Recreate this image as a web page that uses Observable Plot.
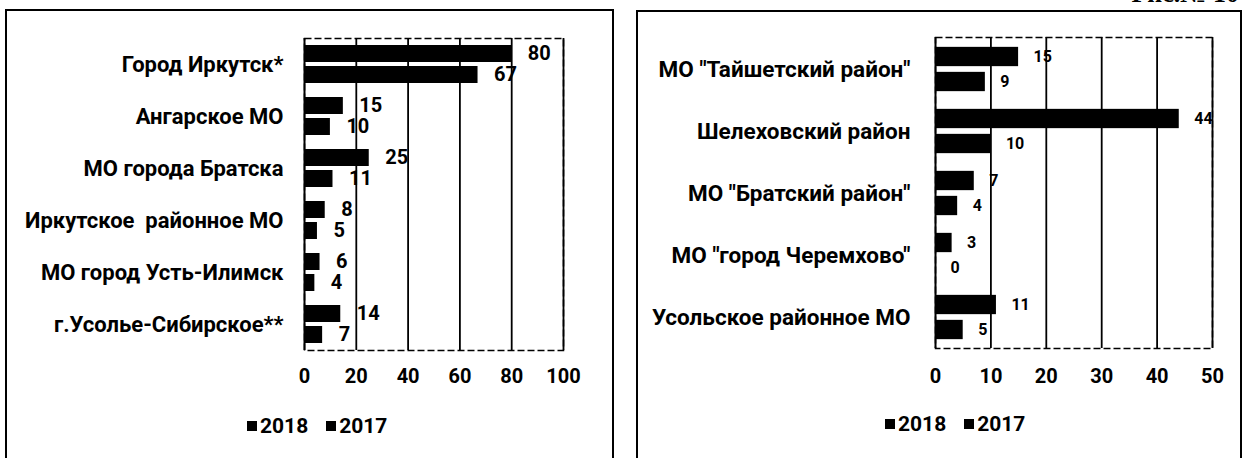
<!DOCTYPE html>
<html><head><meta charset="utf-8">
<script src="https://cdn.jsdelivr.net/npm/d3@7"></script>
<script src="https://cdn.jsdelivr.net/npm/@observablehq/plot@0.6"></script>
<style>
body{margin:0;width:1243px;height:458px;overflow:hidden;background:#fff;position:relative;font-family:Roboto,"Liberation Sans",sans-serif;color:#000}
.panel{position:absolute;border:2px solid #000;border-bottom:none;box-sizing:border-box}
.panel svg{position:absolute;left:0;top:0}
.legend{position:absolute;font-size:21px;font-weight:bold;line-height:24px;white-space:nowrap;display:flex;align-items:center}
.sw{display:inline-block;width:10px;height:10px;background:#000;margin-right:3px}
.item{display:inline-flex;align-items:center;margin-right:18px}
.fig{position:absolute;right:4px;top:-21px;font:bold 26px "Liberation Serif",serif}
</style></head><body>
<div class="fig">Рис.№ 10</div>
<div id="left" class="panel" style="left:5px;top:9px;width:609px;height:460px"></div>
<div id="right" class="panel" style="left:636px;top:10px;width:606px;height:460px"></div>
<div id="legL" class="legend" style="left:247px;top:414px"></div>
<div id="legR" class="legend" style="left:885px;top:412px"></div>
<script>
const years = ["2018", "2017"];

const leftCategories = ["Город Иркутск*", "Ангарское МО", "МО города Братска", "Иркутское  районное МО", "МО город Усть-Илимск", "г.Усолье-Сибирское**"];
const left2018 = [80, 15, 25, 8, 6, 14];
const left2017 = [67, 10, 11, 5, 4, 7];
const leftTicks = [0, 20, 40, 60, 80, 100];

const rightCategories = ["МО \"Тайшетский район\"", "Шелеховский район", "МО \"Братский район\"", "МО \"город Черемхово\"", "Усольское районное МО"];
const right2018 = [15, 44, 7, 3, 11];
const right2017 = [9, 10, 4, 0, 5];
const rightTicks = [0, 10, 20, 30, 40, 50];

function panel(o) {
  const rows = o.cats.map((c, i) => ({c, a: o.v18[i], b: o.v17[i]}));
  const band = (o.height - o.mt - o.mb) / o.cats.length;
  const inset = (band - o.barH) / 2;
  const lab = {textAnchor: "start", fontWeight: "bold", fontSize: o.labelSize, fill: "#000"};
  return Plot.plot({
    width: o.width, height: o.height,
    marginTop: o.mt, marginBottom: o.mb, marginLeft: o.ml, marginRight: o.mr,
    style: {fontFamily: "Roboto, 'Liberation Sans', sans-serif", fontSize: "20px", fontWeight: "bold", color: "#000", background: "transparent", overflow: "visible"},
    x: {domain: [o.ticks[0], o.ticks[o.ticks.length - 1]], ticks: o.ticks, tickSize: 0, tickPadding: o.tickPad, label: null},
    y: {domain: o.cats, padding: 0, tickSize: 0, tickPadding: o.yPad, label: null, tickFormat: d => d},
    marks: [
      Plot.frame({stroke: "#000", strokeWidth: 1.5, strokeDasharray: "7,3"}),
      Plot.ruleX(o.ticks.slice(1), {stroke: "#000", strokeWidth: 1.8}),
      Plot.ruleX([o.ticks[0]], {stroke: "#000", strokeWidth: 2}),
      Plot.barX(rows, {y: "c", x: "a", fill: "#000", insetTop: inset, insetBottom: inset, dy: -o.off}),
      Plot.barX(rows, {y: "c", x: "b", fill: "#000", insetTop: inset, insetBottom: inset, dy: o.off}),
      Plot.text(rows, {y: "c", x: "a", text: d => String(d.a), dy: -o.off, dx: o.labelDx, ...lab}),
      Plot.text(rows, {y: "c", x: "b", text: d => String(d.b), dy: o.off, dx: o.labelDx, ...lab})
    ]
  });
}

function styleY(svg, size) {
  svg.querySelectorAll("g[aria-label='y-axis tick label'] text").forEach(t => t.setAttribute("font-size", size));
  return svg;
}

document.getElementById("left").appendChild(styleY(panel({
  cats: leftCategories, v18: left2018, v17: left2017, ticks: leftTicks,
  width: 605, height: 400, mt: 27, mb: 61, ml: 297, mr: 49,
  barH: 17, off: 10.5, labelSize: 20, labelDx: 16, tickPad: 18, yPad: 21
}), 22));
document.getElementById("right").appendChild(styleY(panel({
  cats: rightCategories, v18: right2018, v17: right2017, ticks: rightTicks,
  width: 602, height: 400, mt: 25, mb: 64, ml: 297, mr: 28,
  barH: 19.5, off: 12.5, labelSize: 16, labelDx: 15, tickPad: 20, yPad: 25
}), 22.5));

for (const id of ["legL", "legR"]) {
  const el = document.getElementById(id);
  for (const y of years) {
    const it = document.createElement("span");
    it.className = "item";
    const sw = document.createElement("span");
    sw.className = "sw";
    it.appendChild(sw);
    it.appendChild(document.createTextNode(y));
    el.appendChild(it);
  }
}
</script>
</body></html>
